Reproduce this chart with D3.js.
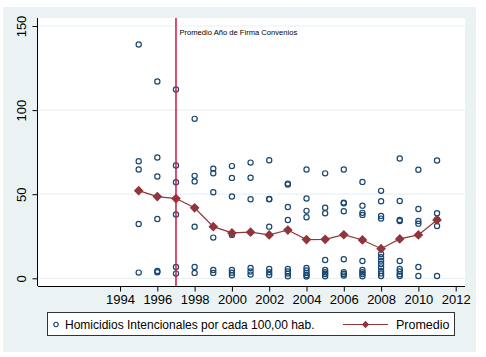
<!DOCTYPE html>
<html>
<head>
<meta charset="utf-8">
<script src="https://cdn.jsdelivr.net/npm/d3@7"></script>
<style>
  body { margin: 0; background: #fff; }
  svg { display: block; font-family: "Liberation Sans", Arial, sans-serif; }
</style>
</head>
<body>
<div id="chart"></div>
<script>
const years = [1995, 1996, 1997, 1998, 1999, 2000, 2001, 2002, 2003, 2004, 2005, 2006, 2007, 2008, 2009, 2010, 2011];

// homicidios por cada 100,000 hab., one list per year
const homicidios = [
  [139, 69.6, 64.7, 32.3, 3.4],
  [117, 71.8, 60.5, 35.3, 4.3, 3.6],
  [112.3, 67.1, 57.1, 37.9, 6.7, 2.8],
  [94.8, 60.9, 57.6, 30.7, 6.7, 3.2],
  [65.2, 62.5, 51.2, 24.2, 4.9, 3.2],
  [66.7, 59.7, 48.6, 25.8, 4.9, 3.3, 1.8],
  [68.8, 59.8, 47.0, 6.1, 4.0, 2.2],
  [70.2, 47.2, 47.0, 30.7, 5.6, 3.6, 2.0],
  [56.3, 55.8, 42.4, 34.7, 5.6, 4.0, 2.8, 1.2],
  [64.7, 47.4, 40.1, 36.3, 6.1, 4.6, 3.2, 2.0, 1.0],
  [62.4, 42.0, 38.7, 10.9, 5.0, 3.6, 2.6, 1.2],
  [64.7, 45.0, 44.6, 39.9, 11.3, 3.6, 2.6, 1.6],
  [57.3, 43.2, 38.9, 37.7, 10.3, 5.0, 3.6, 2.6, 1.2],
  [52.0, 45.8, 37.1, 35.5, 14.5, 12.5, 10.5, 8.5, 6.5, 4.4, 2.9, 1.4],
  [71.2, 46.0, 34.7, 34.1, 10.3, 5.6, 4.0, 2.4, 1.4],
  [64.5, 41.2, 34.1, 32.5, 6.7, 1.4],
  [70.0, 38.7, 35.0, 31.1, 1.4]
];

const promedio = [52.1, 48.6, 47.4, 41.9, 30.7, 27.0, 27.4, 25.8, 28.7, 23.0, 23.2, 25.9, 22.8, 17.6, 23.4, 25.8, 34.7];

const xTicks = [1994, 1996, 1998, 2000, 2002, 2004, 2006, 2008, 2010, 2012];
const yTicks = [0, 50, 100, 150];
const firmaYear = 1997;

const width = 486, height = 357;
const plot = { left: 38, right: 465, top: 18, bottom: 286 };

const svg = d3.create("svg")
    .attr("width", width)
    .attr("height", height);

svg.append("rect")
    .attr("x", 3).attr("y", 7)
    .attr("width", 473).attr("height", 345)
    .attr("fill", "#eaf2f3");

svg.append("rect")
    .attr("x", plot.left).attr("y", plot.top)
    .attr("width", plot.right - plot.left).attr("height", plot.bottom - plot.top)
    .attr("fill", "#fff");

const x = d3.scaleLinear()
    .domain([1989.6, 2012.5])
    .range([plot.left, plot.right]);

const y = d3.scaleLinear()
    .domain([0, 150])
    .range([278.3, 26]);

// grid
svg.append("g")
    .selectAll("line")
    .data(yTicks)
    .join("line")
    .attr("x1", plot.left).attr("x2", plot.right)
    .attr("y1", d => y(d)).attr("y2", d => y(d))
    .attr("stroke", "#eaf2f3")
    .attr("stroke-width", 1.2);

// axes
const yAxis = svg.append("g")
    .attr("transform", `translate(${plot.left - 0.5},0)`)
    .call(d3.axisLeft(y).tickValues(yTicks).tickSize(5).tickSizeOuter(0));
yAxis.select(".domain").attr("d", `M0,${plot.top}V${plot.bottom}`).attr("stroke", "#000");
yAxis.selectAll(".tick line").attr("stroke", "#000");
yAxis.selectAll(".tick text")
    .attr("x", 0).attr("dy", 0)
    .attr("transform", "translate(-12,0) rotate(-90)")
    .attr("text-anchor", "middle")
    .attr("font-size", 13)
    .attr("font-family", "Liberation Sans, Arial, sans-serif")
    .attr("fill", "#000");

const xAxis = svg.append("g")
    .attr("transform", `translate(0,${plot.bottom + 0.5})`)
    .call(d3.axisBottom(x).tickValues(xTicks).tickFormat(d3.format("d")).tickSize(5).tickSizeOuter(0));
xAxis.select(".domain").attr("d", `M${plot.left},0H${plot.right}`).attr("stroke", "#000");
xAxis.selectAll(".tick line").attr("stroke", "#000");
xAxis.selectAll(".tick text")
    .attr("y", 8)
    .attr("font-size", 13)
    .attr("font-family", "Liberation Sans, Arial, sans-serif")
    .attr("fill", "#000");

// points
const pts = years.flatMap((yr, i) => homicidios[i].map(v => ({ year: yr, value: v })));

svg.append("g")
    .selectAll("circle")
    .data(pts)
    .join("circle")
    .attr("cx", d => x(d.year))
    .attr("cy", d => y(d.value))
    .attr("r", 2.6)
    .attr("fill", "none")
    .attr("stroke", "#1a476f")
    .attr("stroke-width", 1.2);

// promedio line
const line = d3.line()
    .x((d, i) => x(years[i]))
    .y(d => y(d));

svg.append("path")
    .datum(promedio)
    .attr("d", line)
    .attr("fill", "none")
    .attr("stroke", "#90353b")
    .attr("stroke-width", 1.2);

const diamond = d3.symbol().type(d3.symbolDiamond2).size(60);

svg.append("g")
    .selectAll("path")
    .data(promedio)
    .join("path")
    .attr("transform", (d, i) => `translate(${x(years[i])},${y(d)})`)
    .attr("d", diamond)
    .attr("fill", "#90353b");

// vertical line for año de firma
svg.append("line")
    .attr("x1", x(firmaYear)).attr("x2", x(firmaYear))
    .attr("y1", plot.top).attr("y2", plot.bottom)
    .attr("stroke", "#d1163f")
    .attr("stroke-width", 1.5);

svg.append("text")
    .attr("x", x(firmaYear) + 3.5)
    .attr("y", 34.5)
    .attr("font-size", 7.6)
    .attr("fill", "#000")
    .text("Promedio Año de Firma Convenios");

// legend
const legend = svg.append("g");
legend.append("rect")
    .attr("x", 47.5).attr("y", 312.5)
    .attr("width", 407).attr("height", 23)
    .attr("fill", "#fff")
    .attr("stroke", "#333")
    .attr("stroke-width", 1);

legend.append("circle")
    .attr("cx", 56).attr("cy", 324.5)
    .attr("r", 2.2)
    .attr("fill", "none")
    .attr("stroke", "#1a476f")
    .attr("stroke-width", 1.1);

legend.append("text")
    .attr("x", 65).attr("y", 329)
    .attr("font-size", 12)
    .attr("fill", "#000")
    .text("Homicidios Intencionales por cada 100,00 hab.");

legend.append("line")
    .attr("x1", 343).attr("x2", 388)
    .attr("y1", 324.5).attr("y2", 324.5)
    .attr("stroke", "#90353b")
    .attr("stroke-width", 1.2);

legend.append("path")
    .attr("transform", "translate(365.5,324.5)")
    .attr("d", d3.symbol().type(d3.symbolDiamond2).size(34))
    .attr("fill", "#90353b");

legend.append("text")
    .attr("x", 396).attr("y", 329)
    .attr("font-size", 12.5)
    .attr("fill", "#000")
    .text("Promedio");

document.getElementById("chart").appendChild(svg.node());
</script>
</body>
</html>
